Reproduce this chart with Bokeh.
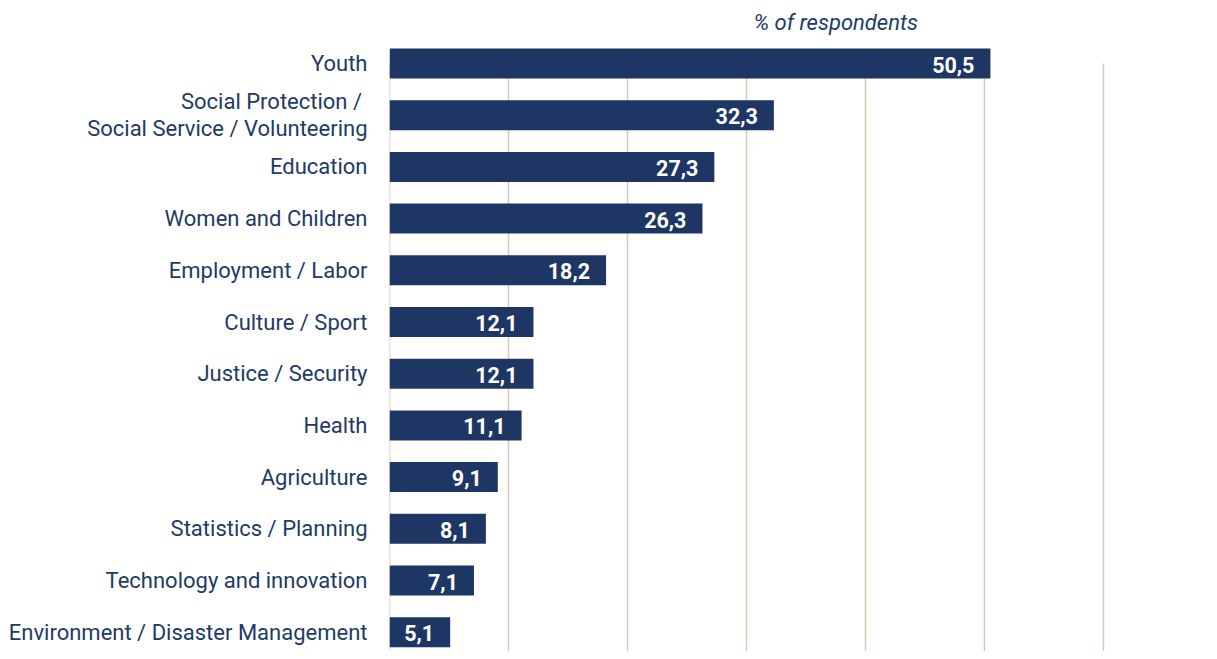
from bokeh.plotting import figure
from bokeh.models import Range1d, FixedTicker, ColumnDataSource
from bokeh.core.properties import value
from bokeh.embed import file_html
from bokeh.resources import INLINE

categories = [
    "Youth",
    "Social  Protection /\nSocial Service / Volunteering",
    "Education",
    "Women and Children",
    "Employment / Labor",
    "Culture / Sport",
    "Justice / Security",
    "Health",
    "Agriculture",
    "Statistics / Planning",
    "Technology and innovation",
    "Environment / Disaster Management",
]
values = [50.5, 32.3, 27.3, 26.3, 18.2, 12.1, 12.1, 11.1, 9.1, 8.1, 7.1, 5.1]
grid_values = [0, 10, 20, 30, 40, 50, 60]
title_text = "% of respondents"

NAVY = "#1d3664"
TEXT = "#223a66"
GRID = "#d8cabb"
FONT = "Roboto"

n = len(categories)
ypos = [n - 1 - i for i in range(n)]
labels = [f"{v:.1f}".replace(".", ",") for v in values]

src = ColumnDataSource(dict(y=ypos, v=values, lab=labels))

p = figure(width=1209, height=651, output_backend="svg", toolbar_location=None,
           x_range=Range1d(0, 68.91), y_range=Range1d(-0.3733, 12.2186),
           min_border_left=389, min_border_right=0, min_border_top=0, min_border_bottom=0)
p.outline_line_color = None
p.xgrid.visible = False
p.ygrid.visible = False
p.xaxis.visible = False

# vertical gridlines from the top category down
p.segment(x0=grid_values, x1=grid_values, y0=[n - 1] * len(grid_values), y1=[-2] * len(grid_values),
          line_color=GRID, line_width=1.5)

p.hbar(y="y", right="v", left=0, height=0.580, source=src, fill_color=NAVY, line_color=None)

p.text(x="v", y="y", text="lab", source=src, text_align="right", text_baseline="middle",
       x_offset=-16, y_offset=1, text_color="white", text_font=value(FONT), text_font_style="bold",
       text_font_size="21.5px")

p.text(x=[37.5], y=[11.793], text=[title_text], text_align="center", text_baseline="middle",
       text_color=TEXT, text_font=value(FONT), text_font_style="italic", text_font_size="22px")

ya = p.yaxis[0]
ya.ticker = FixedTicker(ticks=ypos)
ya.major_label_overrides = {y: c for y, c in zip(ypos, categories)}
ya.axis_line_color = None
ya.major_tick_line_color = None
ya.minor_tick_line_color = None
ya.major_label_standoff = 16
ya.major_label_text_font = FONT
ya.major_label_text_font_size = "22px"
ya.major_label_text_line_height = 1.1
ya.major_label_text_color = TEXT

open("out.html", "w").write(file_html(p, INLINE))
